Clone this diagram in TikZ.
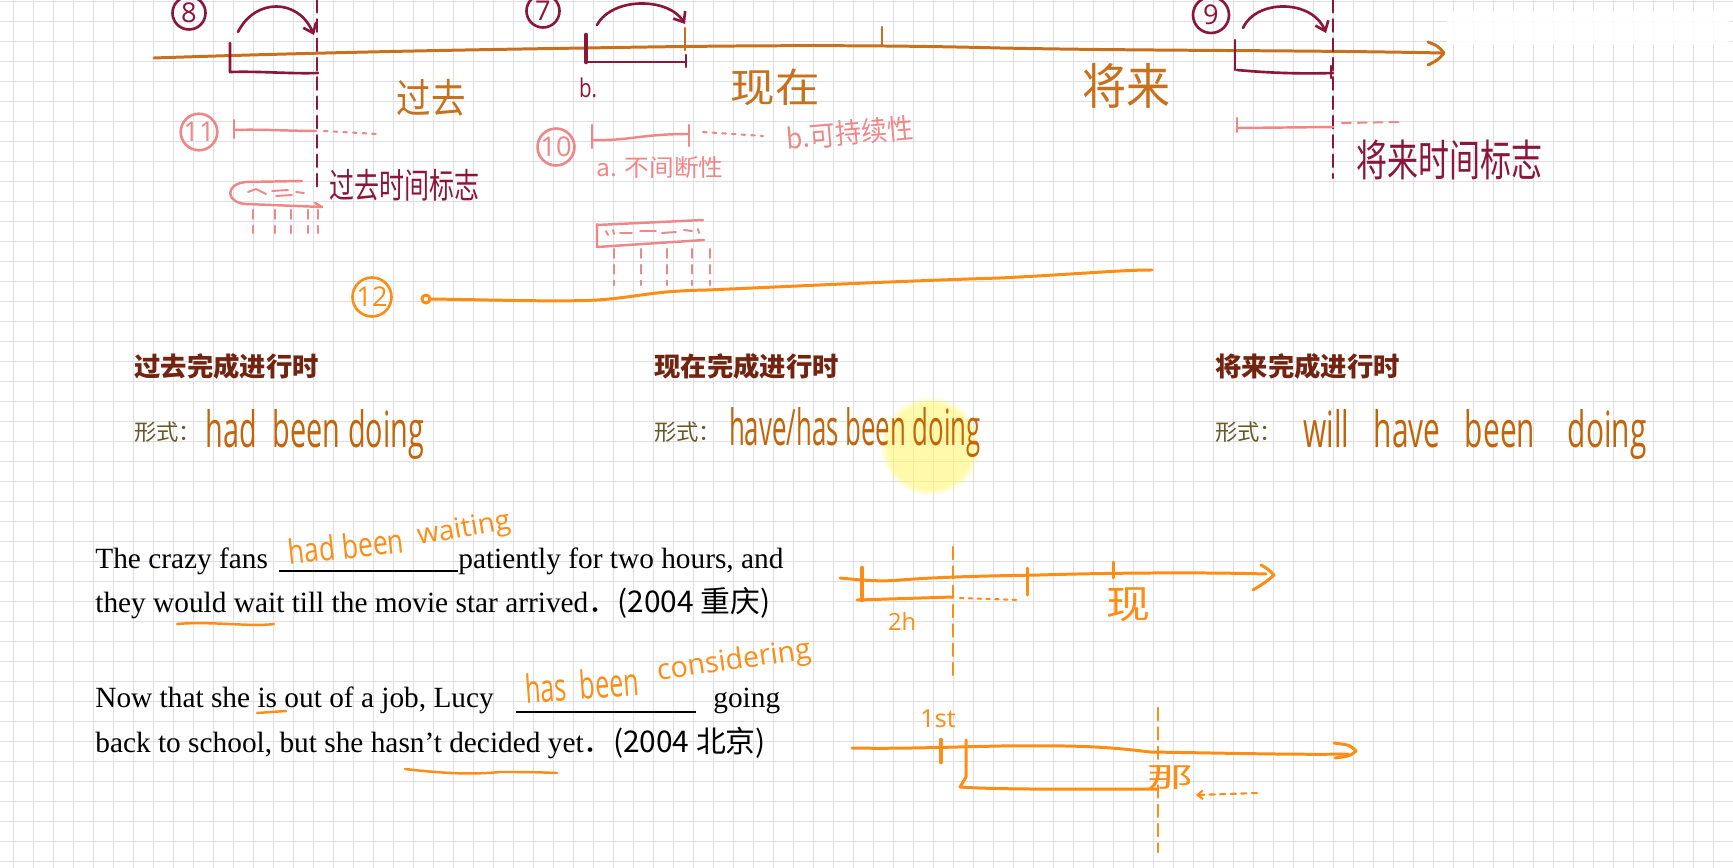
\documentclass[tikz,border=0pt]{standalone}
\usepackage{fontspec}
\setmainfont{Liberation Serif}
\newfontfamily\cjk{Noto Sans CJK SC}
\newfontfamily\handfont{Open Sans}
\usetikzlibrary{arrows.meta,positioning,fadings}
\definecolor{gridgray}{RGB}{222,222,228}
\definecolor{timebrown}{RGB}{200,112,28}
\definecolor{inkmaroon}{RGB}{140,22,58}
\definecolor{inkpink}{RGB}{240,135,135}
\definecolor{inkorange}{RGB}{255,140,20}
\definecolor{formbrown}{RGB}{196,100,8}
\definecolor{headbrown}{RGB}{115,36,16}
\definecolor{formolive}{RGB}{105,88,40}
\newlength\pxu \setlength\pxu{0.02cm}
\newcommand\hw[3]{\resizebox*{#1\pxu}{#2\pxu}{#3}}
\tikzset{
  gridline/.style={draw=gridgray, line width=0.75pt},
  tline/.style   ={draw=timebrown, line width=1.7pt, line cap=round, line join=round},
  mline/.style   ={draw=inkmaroon, line width=1.5pt, line cap=round, line join=round},
  mdash/.style   ={mline, dash pattern=on 7pt off 4pt},
  pline/.style   ={draw=inkpink, line width=1.4pt, line cap=round, line join=round},
  pdots/.style   ={pline, line width=1.2pt, dash pattern=on 2pt off 3.5pt},
  pdash/.style   ={pline, line width=1.2pt, dash pattern=on 5pt off 4pt},
  oline/.style   ={draw=inkorange, line width=1.7pt, line cap=round, line join=round},
  odash/.style   ={oline, line width=1.3pt, dash pattern=on 7pt off 4pt},
  num/.style     ={circle, draw, line width=1.5pt, inner sep=0pt, minimum size=33\pxu,
                   font=\handfont\fontsize{15.5}{15.5}\selectfont},
  hand/.style    ={inner sep=0pt},
  head/.style    ={anchor=west, inner sep=0pt, text=headbrown, font=\cjk\bfseries\fontsize{15}{15}\selectfont},
  formlbl/.style ={anchor=west, inner sep=0pt, text=formolive, font=\cjk\fontsize{12.7}{13}\selectfont},
  sent/.style    ={anchor=base west, inner sep=0pt, font=\fontsize{16.7}{20}\selectfont},
  barb/.style    ={-{Straight Barb[length=5pt, width=8pt]}}
}
\begin{document}
\begin{tikzpicture}[x=0.02cm, y=-0.02cm]
\useasboundingbox (0,0) rectangle (1733,868);
\fill[white] (0,0) rectangle (1733,868);
% squared paper
\foreach \i in {0,...,86} \draw[gridline] ({13.8+20*\i},0) -- ++(0,868);
\foreach \j in {0,...,43} \draw[gridline] (0,{1.8+20*\j}) -- ++(1733,0);
\fill[white, opacity=0.85] (1447,10) rectangle (1730,45);
\fill[yellow!60, fill opacity=0.55, path fading=circle with fuzzy edge 15 percent] (930,446) circle (50);

% main time line
\draw[tline] (154,58) .. controls (300,53) and (450,50) .. (586,48) .. controls (700,46) and (850,44) .. (1000,48) .. controls (1150,51) and (1300,50) .. (1442,53);
\draw[tline] (1428,42) .. controls (1438,46) .. (1444,53) .. controls (1438,60) .. (1428,65);
\draw[tline, line width=1.2pt] (882,27) -- (882,45);
\node[hand, text=timebrown] (past) at (431,98) {\hw{69}{37}{\cjk 过去}};
\node[hand, text=timebrown] (now) at (775,87) {\hw{89}{37}{\cjk 现在}};
\node[hand, text=timebrown] (future) at (1126,86) {\hw{88}{45}{\cjk 将来}};

% 8: past
\node[num, draw=inkmaroon, text=inkmaroon] (n8) at (189,13) {8};
\draw[mline] (230,43) -- (230,72) .. controls (260,71) and (290,74) .. (318,73);
\draw[mdash] (317,0) -- (317,188);
\draw[mline, barb] (238,32) .. controls (255,-2) and (298,-2) .. (314,35);
\node[hand, text=inkmaroon] (pastmark) at (404,185) {\hw{150}{32}{\cjk 过去时间标志}};

% 7: present
\node[num, draw=inkmaroon, text=inkmaroon] (n7) at (543,11) {7};
\draw[mline, line width=2.6pt] (586,35) -- (586,62);
\draw[mline] (586,62) -- (686,62);
\draw[mline] (686,55) -- (686,67);
\draw[tline, line width=1.2pt] (685,28) -- (685,50);
\draw[mline, barb] (597,25) .. controls (612,-3) and (668,-3) .. (685,24);
\node[hand, text=inkmaroon] (bdot) at (588,88) {\hw{18}{20}{\handfont b.}};

% 9: future
\node[num, draw=inkmaroon, text=inkmaroon, minimum size=36\pxu] (n9) at (1211,15) {9};
\draw[mline] (1235,40) -- (1235,70);
\draw[mline] (1237,70) .. controls (1270,73) and (1300,74) .. (1333,73);
\draw[mline] (1331,66) -- (1331,78);
\draw[mdash] (1333,0) -- (1333,178);
\draw[mline, barb] (1243,28) .. controls (1256,-1) and (1312,-1) .. (1326,33);
\node[hand, text=inkmaroon] (futmark) at (1449,160) {\hw{186}{40}{\cjk 将来时间标志}};

% 11 / 10: pink spans
\node[num, draw=inkpink, text=inkpink, minimum size=36\pxu] (n11) at (199,132) {11};
\draw[pline] (234,120) -- (234,138);
\draw[pline] (234,130) .. controls (260,129) and (290,131) .. (316,131);
\draw[pdots] (324,131) -- (377,134);
\node[num, draw=inkpink, text=inkpink] (n10) at (556,147) {10};
\draw[pline] (592,125) -- (592,148);
\draw[pline] (592,140) .. controls (630,141) and (640,134) .. (689,134);
\draw[pline] (689,125) -- (689,146);
\draw[pdots] (703,132) -- (763,136);
\node[hand, text=inkpink] (cont) at (660,168) {\hw{127}{22}{\cjk a. 不间断性}};
\node[hand, text=inkpink, rotate=5] (dura) at (850,133) {\hw{127}{26}{\cjk b.可持续性}};
\draw[pline] (1237,118) -- (1237,132);
\draw[pline] (1237,128) -- (1333,127);
\draw[pdash] (1342,123) -- (1401,122);

% pink past block
\draw[pline] (302,181) -- (246,182) .. controls (224,184) and (226,203) .. (246,204) -- (322,207);
\draw[pline] (315,203) -- (322,207);
\draw[pline, line width=1.1pt] (248,192) -- (256,189) -- (266,194) (272,191) -- (288,190) (276,196) -- (292,195) (296,192) -- (304,193);
\foreach \x in {253,275,291,308,318} \draw[pdash] (\x,210) -- (\x,233);

% pink present block
\draw[pline] (597,225) -- (703,220);
\draw[pline] (597,224) -- (597,247) -- (704,240);
\draw[pline, line width=1.1pt] (606,231) -- (608,235) (613,230) -- (614,234) (620,233) -- (632,233) (640,231) -- (656,231) (662,233) -- (676,232) (684,230) -- (692,231) (698,229) -- (699,233);
\foreach \x in {614,641,667,692,710} \draw[pdash] (\x,249) -- (\x,285);

% 12
\node[num, draw=inkorange, text=inkorange, minimum size=39\pxu] (n12) at (372,297) {12};
\draw[oline] (426,299) circle (4);
\draw[oline] (431,299) .. controls (500,300) and (560,302) .. (597,300) .. controls (640,297) and (650,291) .. (707,290) .. controls (800,286) and (900,281) .. (1000,278) .. controls (1080,274) and (1120,270) .. (1152,270);

% tense headings and forms
\foreach \x/\t/\n in {134/过去/pa, 654/现在/pr, 1215/将来/fu}{
  \node[head] (head\n) at (\x,366) {\t 完成进行时};
  \node[formlbl] (form\n) at (\x,432) {形式：};
}
\node[hand, text=formbrown] (hadbeen) at (315,435) {\hw{218}{50}{\handfont had\; been doing}};
\node[hand, text=formbrown] (havebeen) at (855,433) {\hw{252}{50}{\handfont have/has been doing}};
\node[hand, text=formbrown] (willbeen) at (1475,435) {\hw{343}{50}{\handfont will\;\; have\;\; been\;\;\; doing}};

% exercises
\node[sent] (s1a) at (95,568) {The crazy fans};
\draw[line width=0.9pt] (279,571) -- (458,571);
\node[sent] (s1b) at (458,568) {patiently for two hours, and};
\node[sent] (s2) at (95,612) {they would wait till the movie star arrived{\cjk ．}{\cjk\fontsize{17}{20}\selectfont(2004 重庆)}};
\node[sent] (s3a) at (95,707) {Now that she is out of a job, Lucy};
\draw[line width=0.9pt] (516,712) -- (696,712);
\node[sent] (s3b) at (713,707) {going};
\node[sent] (s4) at (95,752) {back to school, but she hasn’t decided yet{\cjk ．}{\cjk\fontsize{17}{20}\selectfont(2004 北京)}};
\node[hand, text=inkorange, rotate=6] (ans1a) at (346,546) {\hw{116}{26}{\handfont had been}};
\node[hand, text=inkorange, rotate=10] (ans1b) at (464,530) {\hw{94}{27}{\handfont waiting}};
\node[hand, text=inkorange, rotate=4] (ans2a) at (582,685) {\hw{114}{30}{\handfont has\; been}};
\node[hand, text=inkorange, rotate=8] (ans2b) at (734,662) {\hw{155}{29}{\handfont considering}};
\draw[oline, line width=1.4pt] (177,624) .. controls (210,621) and (250,627) .. (274,624);
\draw[oline, line width=1.4pt] (257,713) -- (286,711);
\draw[oline, line width=1.4pt] (405,769) .. controls (440,773) and (470,775) .. (500,772) .. controls (530,772) .. (557,773);

% sketch 1: waited two hours
\draw[oline] (840,578) .. controls (860,580) and (880,582) .. (900,580) .. controls (940,577) and (980,576) .. (1040,575) .. controls (1100,573) and (1200,572) .. (1266,574);
\draw[oline] (1261,565) .. controls (1268,569) .. (1274,575) .. controls (1266,582) .. (1253,590);
\draw[oline, line width=2.6pt] (862,568) -- (862,600);
\draw[oline] (857,600) -- (953,597);
\draw[oline, line width=1.2pt, dash pattern=on 2pt off 3pt] (960,598) -- (1020,600);
\draw[odash] (953,547) -- (953,675);
\draw[oline] (1027,568) -- (1027,595);
\draw[oline] (1113,562) -- (1113,578);
\node[hand, text=inkorange] (twoh) at (902,621) {\hw{28}{18}{\handfont 2h}};
\node[hand, text=inkorange] (xian) at (1128,605) {\hw{44}{34}{\cjk 现}};

% sketch 2: since the first time
\draw[oline] (852,748) .. controls (900,749) and (950,747) .. (1000,746) .. controls (1080,745) and (1110,747) .. (1150,752) .. controls (1220,753) and (1300,755) .. (1348,754);
\draw[oline] (1334,743) .. controls (1350,745) .. (1356,751) .. controls (1350,756) .. (1335,758);
\draw[oline, line width=2.6pt] (941,740) -- (941,762);
\draw[oline] (966,740) -- (966,777) -- (960,787) .. controls (1000,790) and (1100,789) .. (1158,789);
\draw[odash] (1158,708) -- (1158,852);
\node[hand, text=inkorange] (first) at (938,719) {\hw{36}{18}{\handfont 1st}};
\node[hand, text=inkorange] (na) at (1170,778) {\hw{46}{24}{\cjk 那}};
\draw[oline, line width=1.2pt, dash pattern=on 3pt off 3pt, -{Straight Barb[length=3pt, width=5pt]}] (1257,793) -- (1196,795);
\end{tikzpicture}
\end{document}
